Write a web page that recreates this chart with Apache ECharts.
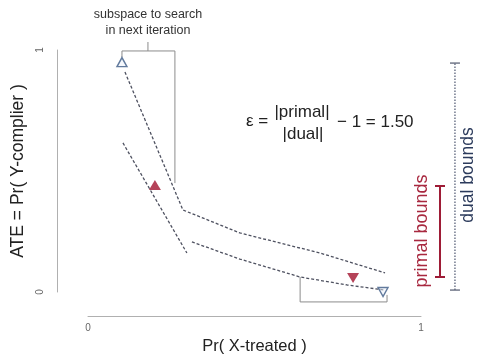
<!DOCTYPE html>
<html>
<head>
<meta charset="utf-8">
<script src="https://cdn.jsdelivr.net/npm/echarts@6/dist/echarts.min.js"></script>
<style>html,body{margin:0;padding:0;background:#fff}#c{width:478px;height:356px}</style>
</head>
<body>
<div id="c"></div>
<script>
// ---- data (in axis units) ----
const xTickLabels = ['0', '1'];
const yTickLabels = ['0', '1'];
const upperPath = [[0.111, 0.909], [0.285, 0.339], [0.456, 0.244], [0.697, 0.161], [0.892, 0.079]];
const lowerSteep = [[0.105, 0.616], [0.297, 0.161]];
const lowerShallow = [[0.312, 0.207], [0.456, 0.136], [0.637, 0.062], [0.778, 0.029], [0.892, 0.008]];
const dualUpper = [0.102, 0.950];
const dualLower = [0.886, 0.000];
const primalUpper = [0.201, 0.442];
const primalLower = [0.796, 0.058];
const primalBarX = 1.057;
const primalBounds = [0.062, 0.438];
const dualBarX = 1.102;
const dualBounds = [0.008, 0.946];
const bracketTop = [[0.102, 0.971], [0.102, 0.996], [0.261, 0.996], [0.261, 0.450]];
const bracketStem = [[0.180, 0.996], [0.180, 1.033]];
const bracketBottom = [[0.637, 0.062], [0.637, -0.041], [0.898, -0.041], [0.898, -0.012]];

const FONT = 'Liberation Sans, Arial, Helvetica, sans-serif';
const chart = echarts.init(document.getElementById('c'), null, {renderer: 'canvas'});

function lineSeries(data, color, width, type) {
  return {type: 'line', data: data, symbol: 'none', clip: false, silent: true,
          lineStyle: {color: color, width: width, type: type}, z: 2};
}
function pointSeries(pt, color, border, rotate, size) {
  return {type: 'scatter', data: [pt], symbol: 'triangle', symbolRotate: rotate, symbolSize: size,
          clip: false, silent: true, z: 5,
          itemStyle: {color: color, borderColor: border, borderWidth: border ? 1.4 : 0}};
}
// error bar drawn through the axes' own scales
function errorBarSeries(x, bounds, color, width, dashType, capColor, capWidth) {
  return {
    type: 'custom', clip: false, silent: true, z: 4,
    data: [[x, bounds[0], bounds[1]]],
    renderItem: function (params, api) {
      const lo = api.coord([api.value(0), api.value(1)]);
      const hi = api.coord([api.value(0), api.value(2)]);
      const hw = 5;
      return {
        type: 'group',
        children: [
          {type: 'line', shape: {x1: lo[0], y1: lo[1], x2: hi[0], y2: hi[1]},
           style: {stroke: color, lineWidth: width, lineDash: dashType}},
          {type: 'line', shape: {x1: lo[0] - hw, y1: lo[1], x2: lo[0] + hw, y2: lo[1]},
           style: {stroke: capColor, lineWidth: capWidth}},
          {type: 'line', shape: {x1: hi[0] - hw, y1: hi[1], x2: hi[0] + hw, y2: hi[1]},
           style: {stroke: capColor, lineWidth: capWidth}}
        ]
      };
    }
  };
}

const dash = [3, 2];
const option = {
  animation: false,
  grid: {left: 88, right: 57, top: 50, bottom: 64, containLabel: false, outerBoundsMode: 'none'},
  xAxis: {
    type: 'value', min: 0, max: 1, interval: 1, offset: 24,
    axisLine: {onZero: false, lineStyle: {color: '#b0b0b0', width: 1}},
    axisTick: {show: false}, splitLine: {show: false},
    axisLabel: {fontSize: 10, color: '#666', margin: 7, fontFamily: FONT,
                formatter: v => xTickLabels[Math.round(v)]},
    name: 'Pr( X-treated )', nameLocation: 'middle', nameGap: 21,
    nameTextStyle: {fontSize: 16.5, color: '#222', fontFamily: FONT}
  },
  yAxis: {
    type: 'value', min: 0, max: 1, interval: 1, offset: 31,
    axisLine: {show: true, onZero: false, lineStyle: {color: '#b0b0b0', width: 1}},
    axisTick: {show: false}, splitLine: {show: false},
    axisLabel: {fontSize: 10, color: '#666', margin: 12, rotate: 90, fontFamily: FONT,
                formatter: v => yTickLabels[Math.round(v)]},
    name: 'ATE = Pr( Y-complier )', nameLocation: 'middle', nameGap: 27,
    nameTextStyle: {fontSize: 17.5, color: '#222', fontFamily: FONT}
  },
  series: [
    lineSeries(bracketTop, '#8c8c8c', 1, 'solid'),
    lineSeries(bracketStem, '#8c8c8c', 1, 'solid'),
    lineSeries(bracketBottom, '#8c8c8c', 1, 'solid'),
    lineSeries(upperPath, '#4e5160', 1.3, dash),
    lineSeries(lowerSteep, '#4e5160', 1.3, dash),
    lineSeries(lowerShallow, '#4e5160', 1.3, dash),
    errorBarSeries(primalBarX, primalBounds, '#9e1c36', 2, null, '#9e1c36', 2),
    errorBarSeries(dualBarX, dualBounds, '#4d5670', 1.2, [1.5, 1.5], '#5d6478', 1.3),
    pointSeries(dualUpper, 'rgba(235,240,250,0.6)', '#3c5a84', 0, [10, 9]),
    pointSeries(dualLower, 'rgba(235,240,250,0.6)', '#3c5a84', 180, [10, 9]),
    pointSeries(primalUpper, '#a3142f', null, 0, [12, 10]),
    pointSeries(primalLower, '#a3142f', null, 180, [12, 10])
  ],
  graphic: [
    {type: 'text', x: 148, y: 15, style: {text: 'subspace to search', fontSize: 12.5, fontFamily: FONT, fill: '#333', align: 'center', verticalAlign: 'middle'}},
    {type: 'text', x: 148, y: 31, style: {text: 'in next iteration', fontSize: 12.5, fontFamily: FONT, fill: '#333', align: 'center', verticalAlign: 'middle'}},
    {type: 'text', x: 257, y: 121, style: {text: 'ε =', fontSize: 17, fontFamily: FONT, fill: '#222', align: 'center', verticalAlign: 'middle'}},
    {type: 'text', x: 302, y: 112, style: {text: '|primal|', fontSize: 17, fontFamily: FONT, fill: '#222', align: 'center', verticalAlign: 'middle'}},
    {type: 'text', x: 303, y: 134, style: {text: '|dual|', fontSize: 17, fontFamily: FONT, fill: '#222', align: 'center', verticalAlign: 'middle'}},
    {type: 'text', x: 337, y: 122, style: {text: '\u2212 1 = 1.50', fontSize: 17, fontFamily: FONT, fill: '#222', align: 'left', verticalAlign: 'middle'}},
    {type: 'text', x: 422, y: 231, rotation: Math.PI / 2, style: {text: 'primal bounds', fontSize: 18, fontFamily: FONT, fill: '#a8283f', align: 'center', verticalAlign: 'middle'}},
    {type: 'text', x: 468, y: 175, rotation: Math.PI / 2, style: {text: 'dual bounds', fontSize: 17.5, fontFamily: FONT, fill: '#2c3b5c', align: 'center', verticalAlign: 'middle'}}
  ]
};
chart.setOption(option);
</script>
</body>
</html>
